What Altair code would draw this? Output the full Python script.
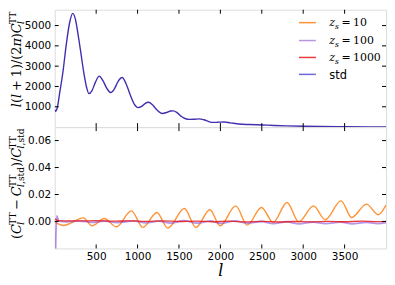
import altair as alt
import pandas as pd

# ---------------- data ----------------
ell_std = [2, 10, 30, 60, 100, 140, 180, 217, 250, 280, 310, 350, 385, 413,
           450, 490, 537, 580, 630, 677, 720, 765, 813, 860, 910, 960, 1005,
           1050, 1090, 1133, 1180, 1230, 1297, 1350, 1400, 1433, 1480, 1530,
           1580, 1625, 1680, 1745, 1800, 1860, 1905, 1960, 2045, 2120, 2225,
           2350, 2505, 2650, 2800, 3000, 3200, 3500, 3800, 4000]
cl_std = [850, 780, 950, 1700, 2750, 4100, 5150, 5600, 5300, 4600, 3800, 2700, 1950, 1650,
          1800, 2200, 2510, 2300, 1900, 1700, 1880, 2250, 2440, 2150, 1600, 1130, 960,
          1020, 1160, 1220, 1100, 860, 670, 720, 790, 800, 700, 520,
          410, 380, 385, 405, 360, 270, 230, 235, 250, 210, 150,
          125, 105, 80, 60, 42, 30, 20, 13, 10]

ell_z10 = [2, 105, 345, 450, 597, 745, 925, 1065, 1233, 1365, 1565, 1705, 1873, 1997,
           2185, 2325, 2497, 2637, 2805, 2945, 3125, 3265, 3457, 3585, 3765, 3905, 4000]
d_z10 = [-0.0005, -0.003, 0.0027, -0.0032, 0.0022, -0.0039, 0.0079, -0.0044, 0.0067,
         -0.0049, 0.0096, -0.0044, 0.0087, -0.0032, 0.0116, -0.0027, 0.0104, -0.0007,
         0.0141, -0.0002, 0.0116, 0.0013, 0.0153, 0.003, 0.0129, 0.005, 0.0121]

ell_z100 = [2, 12, 25, 50, 150, 300, 450, 600, 750, 950, 1100, 1250, 1400, 1560, 1720,
            1880, 2000, 2180, 2330, 2500, 2640, 2800, 2950, 3120, 3270, 3450, 3590,
            3760, 3900, 4000]
d_z100 = [-0.06, -0.015, 0.0042, 0.0003, -0.0003, 0.0003, -0.0006, 0.0002, -0.0008,
          0.0004, -0.0010, 0.0002, -0.0012, 0.0006, -0.0012, 0.0004, -0.0014, 0.0004,
          -0.0012, 0.0, -0.0016, -0.0002, -0.0018, -0.0004, -0.0016, -0.0004, -0.0018,
          -0.0006, -0.0016, -0.0008]

ell_z1000 = [2, 30, 100, 300, 500, 700, 900, 1100, 1300, 1500, 1700, 1900, 2100, 2300,
             2500, 2700, 2900, 3100, 3300, 3500, 3700, 3900, 4000]
d_z1000 = [0.002, 0.0008, 0.0005, 0.0004, 0.0006, 0.0002, 0.0005, 0.0001, 0.0004, 0.0,
           0.0003, -0.0002, 0.0002, -0.0003, 0.0001, -0.0004, 0.0, -0.0003, 0.0001,
           -0.0002, 0.0002, -0.0001, 0.0001]

x_ticks = [500, 1000, 1500, 2000, 2500, 3000, 3500]
top_y_ticks = [1000, 2000, 3000, 4000, 5000]
bot_y_ticks = [0.0, 0.02, 0.04, 0.06]

legend_numbers = ["10", "100", "1000"]
legend_std = "std"

# ---------------- styling ----------------
C10, C100, C1000, CSTD = "#ff7f0e", "#8a4fd6", "#e41a1c", "#2b2bcc"
OP10, OP100, OP1000, OPSTD = 0.85, 0.6, 0.85, 0.7
TOPLINE = "#4030b0"

W = 333
H_TOP = 118
H_BOT = 122
X_DOMAIN = [0, 4000]
TOP_DOMAIN = [0, 5780]
BOT_DOMAIN = [-0.02, 0.07]
TICK = 4
SERIF = "DejaVu Serif"
SANS = "DejaVu Sans"
LBL = 10.5

one = pd.DataFrame({"k": [0]})

# approximate advance widths (em) used to assemble math-like labels
CW = {
    "R": {"(": 0.390, ")": 0.390, "+": 0.838, "\u2212": 0.838, "=": 0.838, "0": 0.636,
          "1": 0.636, "2": 0.636, "/": 0.337, "T": 0.668, "s": 0.514, "t": 0.402,
          "d": 0.640, ",": 0.318, " ": 0.318},
    "I": {"l": 0.320, "C": 0.715, "\u03c0": 0.640, "z": 0.525, "s": 0.514},
}


def twidth(txt, style, size):
    return sum(CW[style].get(c, 0.6) for c in txt) * size


def compose(items, F, sub=0.22, sup=0.36):
    out, pos = [], 0.0
    for it in items:
        if it[0] == "t":
            out.append(dict(text=it[1], style=it[2], size=F, along=pos, perp=0.0))
            pos += twidth(it[1], it[2], F)
        elif it[0] == "gap":
            pos += it[1] * F
        else:
            s = 0.7 * F
            ends = []
            for parts, shift in ((it[1], sub * F), (it[2], -sup * F)):
                p = pos
                for txt, st in parts:
                    out.append(dict(text=txt, style=st, size=s, along=p, perp=shift))
                    p += twidth(txt, st, s)
                ends.append(p)
            pos = max(ends)
    return out, pos


def piece(text, style, size, x, y, angle=None, font=SERIF):
    kw = dict(text=text, font=font, fontSize=size,
              fontStyle="italic" if style == "I" else "normal",
              align="left", baseline="alphabetic", color="black")
    if angle is not None:
        kw["angle"] = angle
    return alt.Chart(one).mark_text(**kw).encode(x=alt.value(x), y=alt.value(y))


def rotated_title(items, F, base_x, start_y=None, center_y=None):
    parts, L = compose(items, F)
    if start_y is None:
        start_y = center_y + L / 2
    return [piece(p["text"], p["style"], p["size"], base_x + p["perp"],
                  start_y - p["along"], angle=270) for p in parts]


X_SCALE = alt.Scale(domain=X_DOMAIN, nice=False, zero=False)
TOP_Y_SCALE = alt.Scale(domain=TOP_DOMAIN, nice=False, zero=False)
BOT_Y_SCALE = alt.Scale(domain=BOT_DOMAIN, nice=False, zero=False)

TOP_Y_AXIS = alt.Axis(values=top_y_ticks, format="d", ticks=False, tickSize=0,
                      domain=False, grid=False, labelPadding=4, title=None,
                      labelFont=SANS, labelFontSize=LBL, labelColor="black")
BOT_X_AXIS = alt.Axis(values=x_ticks, format="d", ticks=False, tickSize=0, domain=False,
                      grid=False, labelPadding=3, labelFont=SANS, labelFontSize=LBL,
                      labelColor="black", title="l", titleFont=SERIF,
                      titleFontStyle="italic", titleFontSize=16,
                      titleFontWeight="normal", titleColor="black", titlePadding=1)
BOT_Y_AXIS = alt.Axis(values=bot_y_ticks, format=".2f", ticks=False, tickSize=0,
                      domain=False, grid=False, labelPadding=4, title=None,
                      labelFont=SANS, labelFontSize=LBL, labelColor="black")


def tick_layers(h, yticks, yscale, xaxis, yaxis):
    xt = pd.DataFrame({"l": x_ticks})
    yt = pd.DataFrame({"v": yticks})
    xs = alt.X("l:Q", scale=X_SCALE, axis=xaxis)
    ys = alt.Y("v:Q", scale=yscale, axis=yaxis)
    rk = dict(color="black", strokeWidth=1)
    return [
        alt.Chart(xt).mark_rule(**rk).encode(x=xs, y=alt.value(0), y2=alt.value(TICK)),
        alt.Chart(xt).mark_rule(**rk).encode(x=xs, y=alt.value(h - TICK), y2=alt.value(h)),
        alt.Chart(yt).mark_rule(**rk).encode(y=ys, x=alt.value(0), x2=alt.value(TICK)),
        alt.Chart(yt).mark_rule(**rk).encode(y=ys, x=alt.value(W - TICK), x2=alt.value(W)),
    ]


# ---------------- top panel ----------------
top_line = alt.Chart(pd.DataFrame({"l": ell_std, "v": cl_std})).mark_line(
    color=TOPLINE, strokeWidth=1.4, interpolate="monotone", clip=True
).encode(
    x=alt.X("l:Q", scale=X_SCALE, axis=None),
    y=alt.Y("v:Q", scale=TOP_Y_SCALE, axis=TOP_Y_AXIS),
)

# legend (manual, to mix math-style and plain labels)
LEG_X0, LEG_X1, LEG_TX = 245.5, 262.5, 276
LEG_ROWS = [13, 31, 48, 65]
leg_colors = [(C10, OP10), (C100, OP100), (C1000, OP1000), (CSTD, OPSTD)]
legend_layers = []
for (col, op), ry in zip(leg_colors, LEG_ROWS):
    legend_layers.append(
        alt.Chart(one).mark_rule(color=col, opacity=op, strokeWidth=1.5).encode(
            x=alt.value(LEG_X0), x2=alt.value(LEG_X1), y=alt.value(ry)))
FL = 11
for num, ry in zip(legend_numbers, LEG_ROWS[:3]):
    items = [("t", "z", "I"), ("ss", [("s", "I")], []), ("gap", 0.22),
             ("t", "=", "R"), ("gap", 0.22), ("t", num, "R")]
    parts, _ = compose(items, FL)
    for p in parts:
        legend_layers.append(piece(p["text"], p["style"], p["size"],
                                   LEG_TX + p["along"], ry + 3.8 + p["perp"]))
legend_layers.append(piece(legend_std, "R", 11.5, LEG_TX, LEG_ROWS[3] + 4.2, font=SANS))

TF = 13
top_title_items = [("t", "l", "I"), ("t", "(", "R"), ("t", "l", "I"), ("gap", 0.22),
                   ("t", "+", "R"), ("gap", 0.22), ("t", "1", "R"), ("t", ")", "R"),
                   ("t", "/", "R"), ("t", "(", "R"), ("t", "2", "R"), ("t", "\u03c0", "I"),
                   ("t", ")", "R"), ("t", "C", "I"), ("ss", [("l", "I")], [("TT", "R")])]
top_title = rotated_title(top_title_items, TF, base_x=-34, start_y=98)

top = alt.layer(
    top_line, *tick_layers(H_TOP, top_y_ticks, TOP_Y_SCALE, None, TOP_Y_AXIS),
    *legend_layers, *top_title
).properties(width=W, height=H_TOP)

# ---------------- bottom panel ----------------
xenc = alt.X("l:Q", scale=X_SCALE, axis=BOT_X_AXIS)
yenc = alt.Y("v:Q", scale=BOT_Y_SCALE, axis=BOT_Y_AXIS)


def diff_line(ls, ds, col, op, sw):
    return alt.Chart(pd.DataFrame({"l": ls, "v": ds})).mark_line(
        color=col, opacity=op, strokeWidth=sw, interpolate="monotone", clip=True
    ).encode(x=xenc, y=yenc)


bot_lines = [
    diff_line(ell_z10, d_z10, C10, OP10, 1.4),
    diff_line(ell_z100, d_z100, C100, OP100, 1.8),
    diff_line(ell_z1000, d_z1000, C1000, OP1000, 1.3),
]

bot_title_items = [("t", "(", "R"), ("t", "C", "I"), ("ss", [("l", "I")], [("TT", "R")]),
                   ("gap", 0.22), ("t", "\u2212", "R"), ("gap", 0.22), ("t", "C", "I"),
                   ("ss", [("l", "I"), (",std", "R")], [("TT", "R")]), ("t", ")", "R"),
                   ("t", "/", "R"), ("t", "C", "I"),
                   ("ss", [("l", "I"), (",std", "R")], [("TT", "R")])]
bot_title = rotated_title(bot_title_items, TF, base_x=-34, center_y=57)

bottom = alt.layer(
    *bot_lines, *tick_layers(H_BOT, bot_y_ticks, BOT_Y_SCALE, BOT_X_AXIS, BOT_Y_AXIS),
    *bot_title
).properties(width=W, height=H_BOT)

chart = alt.VConcatChart(
    vconcat=[top, bottom], spacing=0, bounds="flush",
    padding={"left": 0, "top": 0, "right": 0, "bottom": 0},
).configure_view(stroke="black", strokeWidth=1).configure(background="white")

chart.save("out.html", embed_options={"renderer": "svg", "actions": False})
